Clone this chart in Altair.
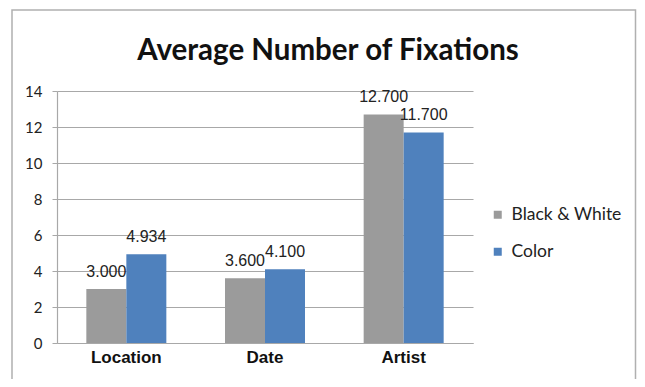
import altair as alt
import pandas as pd

categories = ["Location", "Date", "Artist"]
series_names = ["Black & White", "Color"]
bw_values = [3.000, 3.600, 12.700]
color_values = [4.934, 4.100, 11.700]
y_ticks = [0, 2, 4, 6, 8, 10, 12, 14]
title_text = ["Average Number of Fixations"]

rows = []
for i, c in enumerate(categories):
    rows.append({"category": c, "series": series_names[0], "value": bw_values[i]})
    rows.append({"category": c, "series": series_names[1], "value": color_values[i]})
df = pd.DataFrame(rows)
title_df = pd.DataFrame({"t": title_text})

W, H = 416, 252
GRID = "#a8a8a8"

x_enc = alt.X("category:N", sort=categories, title=None,
              scale=alt.Scale(paddingInner=0.423, paddingOuter=0.2115),
              axis=alt.Axis(labelAngle=0, ticks=False, labelPadding=6,
                            labelFont="Liberation Sans", labelFontWeight="bold",
                            labelFontSize=17, labelColor="#111",
                            domainColor=GRID, domainWidth=1.2, grid=False))
y_enc = alt.Y("value:Q", title=None,
              scale=alt.Scale(domain=[0, 14], nice=False),
              axis=alt.Axis(values=y_ticks, tickSize=5, tickColor=GRID,
                            labelOverlap=False,
                            labelPadding=10, labelFont="Lato", labelFontSize=15,
                            labelColor="#222", domainColor=GRID, domainWidth=1.2,
                            gridColor=GRID, gridWidth=1.2))
xo = alt.XOffset("series:N", sort=series_names,
                 scale=alt.Scale(paddingInner=0, paddingOuter=0))

bars = alt.Chart(df).mark_bar(size=40).encode(
    x=x_enc, y=y_enc, xOffset=xo,
    color=alt.Color("series:N", sort=series_names,
                    scale=alt.Scale(domain=series_names, range=["#9b9b9b", "#4f81bd"]),
                    legend=alt.Legend(title=None, orient="none", legendX=432, legendY=115,
                                      symbolType="square", symbolSize=64,
                                      symbolStrokeWidth=0,
                                      labelFont="Lato", labelFontSize=17.5,
                                      labelColor="#222", rowPadding=18, labelOffset=5))
)

labels = alt.Chart(df).mark_text(baseline="bottom", dy=-9, font="Liberation Sans",
                                 fontSize=16, color="#222").encode(
    x=x_enc,
    xOffset=xo,
    y=y_enc,
    text=alt.Text("value:Q", format=".3f"),
)

frame = alt.Chart(title_df).mark_rect(fill=None, stroke="#b0b0b0", strokeWidth=1.5, clip=False).encode(
    x=alt.value(-45), x2=alt.value(578.5), y=alt.value(-81), y2=alt.value(340)
)

title = alt.Chart(title_df).mark_text(font="Lato", fontSize=29.5, fontWeight="bold",
                                      color="#111", align="center", baseline="alphabetic").encode(
    x=alt.value(271), y=alt.value(-31), text="t:N"
)

chart = alt.layer(frame, bars, labels, title).properties(
    width=W, height=H,
    background="white",
    autosize=alt.AutoSizeParams(type="none"),
    padding={"left": 49, "top": 83, "right": 164, "bottom": 36},
).configure_view(strokeWidth=0, stroke="transparent")

chart.save("out.html", embed_options={"renderer": "svg", "actions": False})
